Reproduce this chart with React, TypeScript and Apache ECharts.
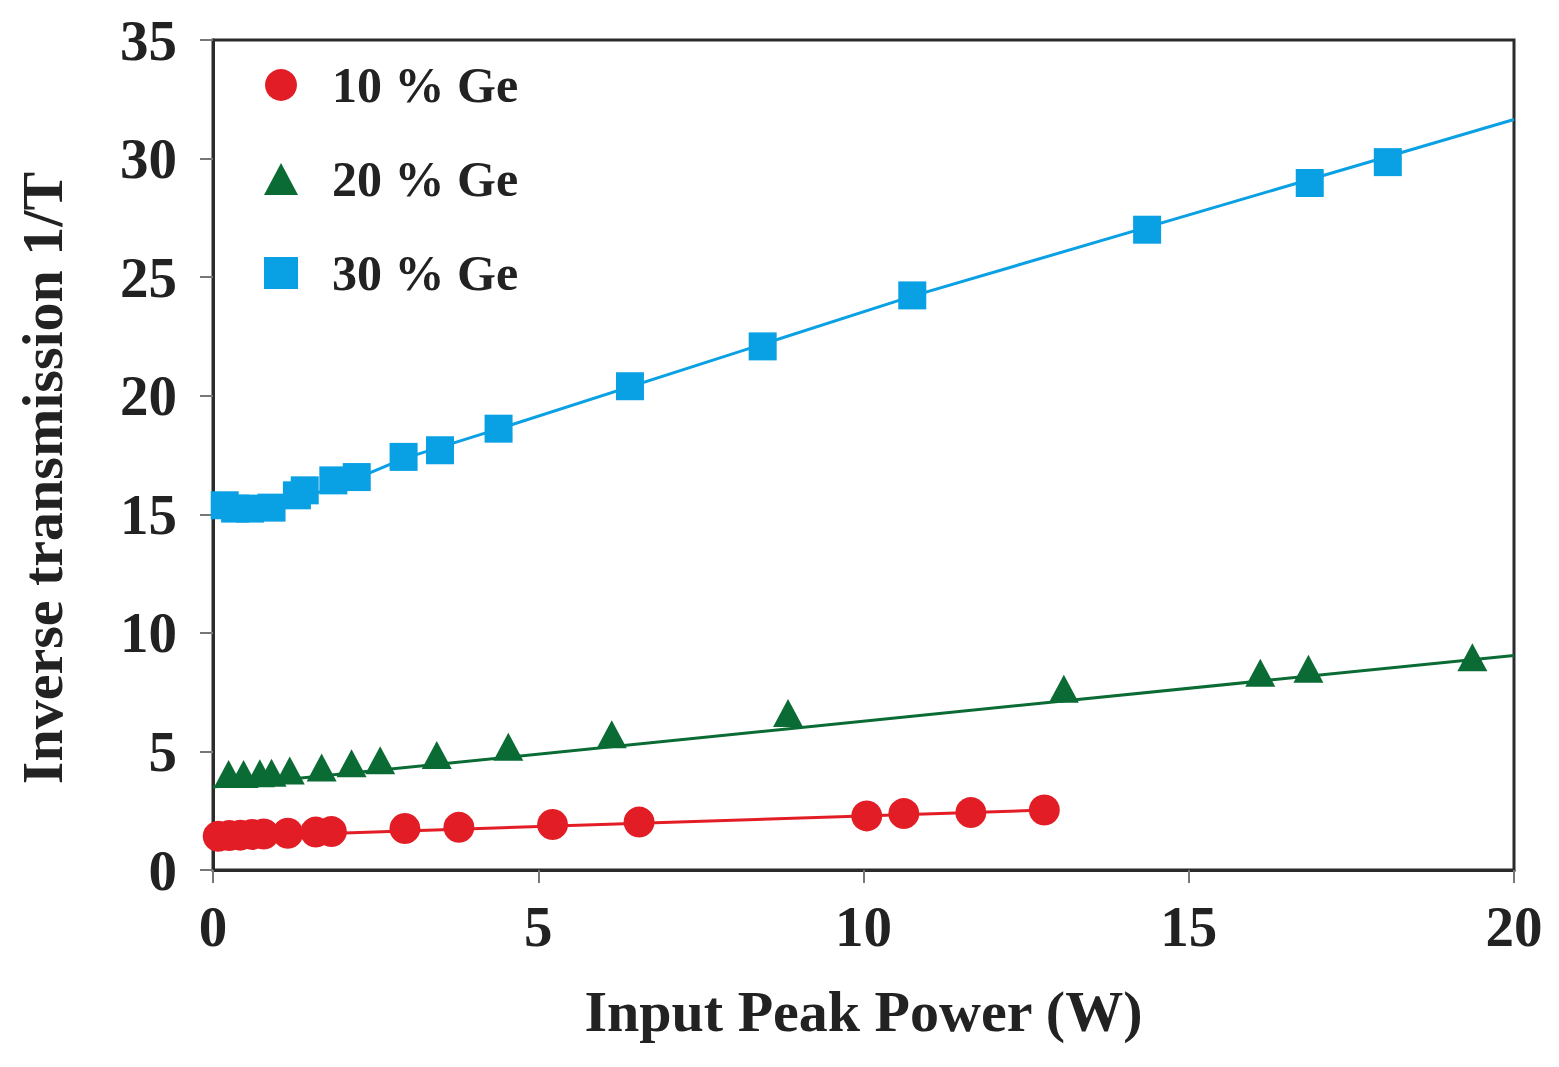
import React, { useEffect, useRef } from 'react';
import * as echarts from 'echarts';

// Input peak power (W), inverse transmission 1/T
const ge10Points: [number, number][] = [
  [0.08, 1.42], [0.25, 1.45], [0.42, 1.47], [0.6, 1.5], [0.78, 1.52],
  [1.15, 1.55], [1.58, 1.6], [1.82, 1.62], [2.95, 1.75], [3.78, 1.8],
  [5.22, 1.92], [6.55, 2.02], [10.05, 2.28], [10.62, 2.38], [11.65, 2.42], [12.78, 2.53]
];
const ge20Points: [number, number][] = [
  [0.24, 4.05], [0.47, 4.05], [0.72, 4.08], [0.9, 4.1], [1.18, 4.2],
  [1.67, 4.32], [2.13, 4.5], [2.57, 4.63], [3.44, 4.85], [4.54, 5.2],
  [6.13, 5.72], [8.84, 6.62], [13.08, 7.64], [16.1, 8.32], [16.84, 8.49], [19.36, 8.97]
];
const ge30Points: [number, number][] = [
  [0.18, 15.38], [0.34, 15.24], [0.57, 15.24], [0.9, 15.28], [1.29, 15.8],
  [1.41, 16.01], [1.85, 16.43], [2.21, 16.57], [2.93, 17.42], [3.49, 17.7],
  [4.39, 18.61], [6.41, 20.4], [8.45, 22.08], [10.75, 24.23], [14.36, 27.0],
  [16.86, 28.97], [18.06, 29.85]
];

// trend lines
const ge10Fit: [number, number][] = [[0, 1.38], [12.8, 2.53]];
const ge20Fit: [number, number][] = [[0, 3.5], [20, 9.05]];
const ge30Fit: [number, number][] = [
  [0.1, 15.2], [1.0, 15.3], [2.2, 16.5], [2.93, 17.35], [4.39, 18.6], [10.75, 24.2], [20, 31.65]
];

const seriesNames = ['10 % Ge', '20 % Ge', '30 % Ge'];
const seriesColors = ['#e31d25', '#0a6b34', '#0aa0e4'];
const xTicks = [0, 5, 10, 15, 20];
const yTicks = [0, 5, 10, 15, 20, 25, 30, 35];

const FONT = '"Liberation Serif", "Times New Roman", serif';
const AXIS_COLOR = '#2b2b2b';

const App: React.FC = () => {
  const chartRef = useRef<HTMLDivElement>(null);

  useEffect(() => {
    if (!chartRef.current) return;
    const chart = echarts.init(chartRef.current, undefined, { renderer: 'svg' });

    const axisCommon = {
      type: 'value' as const,
      axisLine: { show: true, lineStyle: { color: AXIS_COLOR, width: 3 } },
      axisTick: { show: true, inside: false, length: 13, lineStyle: { color: '#777', width: 2 } },
      splitLine: { show: false },
      nameLocation: 'middle' as const
    };
    const nameStyle = { fontFamily: FONT, fontWeight: 'bold' as const, fontSize: 58, color: '#222' };

    chart.setOption({
      animation: false,
      backgroundColor: '#ffffff',
      grid: {
        left: 213,
        right: 45,
        top: 40,
        bottom: 197,
        show: true,
        borderColor: AXIS_COLOR,
        borderWidth: 3,
        backgroundColor: 'transparent'
      },
      legend: {
        orient: 'vertical',
        left: 264,
        top: 60,
        padding: 0,
        itemWidth: 34,
        itemHeight: 32,
        itemGap: 44,
        data: [
          { name: seriesNames[0], icon: 'circle' },
          { name: seriesNames[1], icon: 'triangle' },
          { name: seriesNames[2], icon: 'rect' }
        ],
        textStyle: {
          fontFamily: FONT,
          fontWeight: 'bold',
          fontSize: 50,
          lineHeight: 50,
          color: '#222',
          padding: [0, 0, 0, 29]
        }
      },
      xAxis: {
        ...axisCommon,
        min: xTicks[0],
        max: xTicks[xTicks.length - 1],
        interval: 5,
        name: 'Input Peak Power (W)',
        nameGap: 112,
        nameTextStyle: nameStyle,
        axisLabel: {
          margin: 28,
          fontFamily: FONT,
          fontWeight: 'bold',
          fontSize: 57,
          color: '#222'
        }
      },
      yAxis: {
        ...axisCommon,
        min: yTicks[0],
        max: yTicks[yTicks.length - 1],
        interval: 5,
        name: 'Inverse transmission 1/T',
        nameGap: 142,
        nameTextStyle: { ...nameStyle, padding: [0, 46, 0, 0] },
        axisLabel: {
          margin: 36,
          fontFamily: FONT,
          fontWeight: 'bold',
          fontSize: 57,
          color: '#222'
        }
      },
      series: [
        {
          name: 'fit10',
          type: 'line',
          data: ge10Fit,
          showSymbol: false,
          lineStyle: { color: seriesColors[0], width: 3 },
          silent: true
        },
        {
          name: 'fit20',
          type: 'line',
          data: ge20Fit,
          showSymbol: false,
          lineStyle: { color: seriesColors[1], width: 3 },
          silent: true
        },
        {
          name: 'fit30',
          type: 'line',
          data: ge30Fit,
          showSymbol: false,
          lineStyle: { color: seriesColors[2], width: 3 },
          silent: true
        },
        {
          name: seriesNames[0],
          type: 'scatter',
          data: ge10Points,
          symbol: 'circle',
          symbolSize: 31,
          itemStyle: { color: seriesColors[0], opacity: 1 }
        },
        {
          name: seriesNames[1],
          type: 'scatter',
          data: ge20Points,
          symbol: 'triangle',
          symbolSize: [30, 28],
          itemStyle: { color: seriesColors[1], opacity: 1 }
        },
        {
          name: seriesNames[2],
          type: 'scatter',
          data: ge30Points,
          symbol: 'rect',
          symbolSize: 28,
          itemStyle: { color: seriesColors[2], opacity: 1 }
        }
      ]
    });

    return () => {
      chart.dispose();
    };
  }, []);

  return (
    <div
      ref={chartRef}
      style={{ position: 'fixed', left: 0, top: 0, width: '1559px', height: '1067px', background: '#fff' }}
    />
  );
};

export default App;
